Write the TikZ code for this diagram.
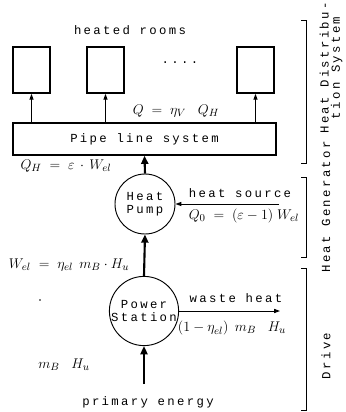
\documentclass[tikz,border=0pt]{standalone}
\usepackage{amsmath}
\usepackage{fontspec}
\newfontfamily\typefont[LetterSpace=19]{Liberation Mono}
\usetikzlibrary{arrows.meta}

\begin{document}
\begin{tikzpicture}[x=0.03cm,y=-0.03cm,line width=0.8pt,
  txt/.style={font=\typefont\fontsize{10.5}{9.6}\selectfont,inner sep=0pt},
  lbl/.style={font=\fontsize{13}{15}\selectfont,inner sep=0pt},
  room/.style={draw,line width=1.4pt,minimum width=1.11cm,minimum height=1.38cm,inner sep=0pt},
  unit/.style={draw,circle,minimum size=1.8cm,inner sep=0pt,align=center,txt},
  feed/.style={line width=1.8pt,-{Triangle[length=7pt,width=6pt]}},
  flow/.style={-{Triangle[length=5pt,width=3.5pt]}}]
  \useasboundingbox (0,0) rectangle (346,412);
  % Rooms fed by the pipe line system.
  \node[txt] (roomtitle) at (130,30) {heated rooms};
  \node[room] (r1) at (31.5,70) {};
  \node[room] (r2) at (105.5,70) {};
  \node[room] (r3) at (255.5,70) {};
  \node[txt] (dots) at (180,63) {....};
  \node[draw,line width=1.2pt,minimum width=7.89cm,minimum height=0.96cm,inner sep=0pt,txt]
    (pipe) at (144.5,139) {Pipe line system};
  \draw[flow] (pipe.north -| r1.south) -- (r1.south);
  \draw[flow] (pipe.north -| r2.south) -- (r2.south);
  \draw[flow] (pipe.north -| r3.south) -- (r3.south);
  \node[lbl] (qv) at (176,111) {$Q \;=\; \eta_V\;\;\; Q_H$};
  % Generator and drive.
  \node[unit] (hp) at (145,204) {Heat\\[2pt]Pump};
  \node[unit,minimum size=1.92cm] (ps) at (144,311) {Power\\[2pt]Station};
  \coordinate (src) at (279,204);
  \coordinate (sink) at (280,311);
  \coordinate (fuel) at (144,384);
  \draw[feed] (hp.north) -- (pipe.south);
  \draw[feed] (ps.north) -- (hp.south);
  \draw[feed] (fuel) -- (ps.south);
  \draw[flow] (src) -- (hp.east);
  \draw[flow] (ps.east) -- (sink);
  % Labels of the energy flows.
  \node[lbl] (qh) at (66,166) {$Q_H \;=\; \varepsilon \,\cdot\, W_{el}$};
  \node[txt] (srctxt) at (240,193) {heat source};
  \node[lbl] (q0) at (244,216) {$Q_0 \;=\; (\varepsilon - 1)\; W_{el}$};
  \node[lbl] (wel) at (69,265) {$W_{el} \;=\; \eta_{el}\;\, m_B \cdot H_u$};
  \node[txt] (sinktxt) at (236,298) {waste heat};
  \node[lbl] (loss) at (232,328) {$(1 - \eta_{el})\;\, m_B\;\;\; H_u$};
  \node[lbl] (mb) at (64,365) {$m_B\;\;\; H_u$};
  \node[txt] (fueltxt) at (148,402) {primary energy};
  \fill (40,300) circle (0.8pt);
  % Brackets at the right with their rotated names.
  \draw (301,20) -- (306,20) -- (306,163) -- (301,163);
  \draw (301,177) -- (306,177) -- (306,257) -- (301,257);
  \draw (301,268) -- (306,268) -- (306,410) -- (301,410);
  \node[txt,rotate=90,align=center] (dist) at (331,68) {Heat Distribu-\\tion System};
  \node[txt,rotate=90] (gen) at (326,207) {Heat Generator};
  \node[txt,rotate=90] (drive) at (326,356) {Drive};
\end{tikzpicture}
\end{document}
